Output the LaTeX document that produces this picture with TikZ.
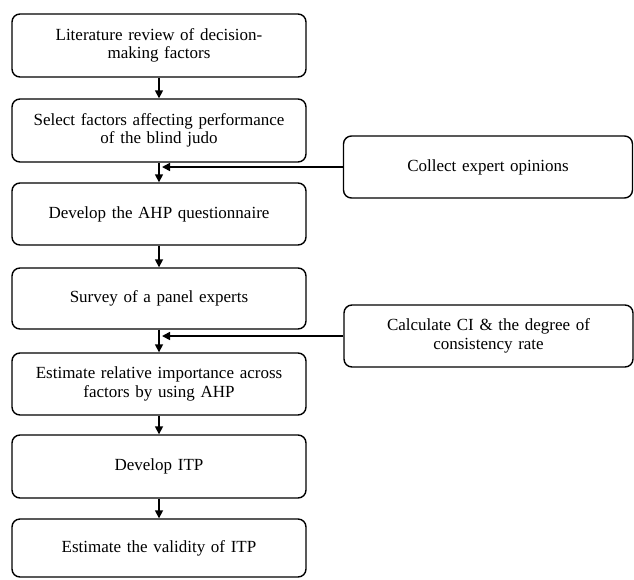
\documentclass[tikz,border=0pt]{standalone}
\usepackage{fontspec}
\setmainfont{Liberation Serif}
\usetikzlibrary{arrows.meta}
\begin{document}
\begin{tikzpicture}[x=1pt,y=1pt,
  stepbox/.style={draw, line width=1.4pt, rounded corners=8pt, align=center,
    minimum width=294pt, text width=285pt, inner sep=0pt,
    font=\fontsize{17}{18.5}\selectfont},
  sidebox/.style={stepbox, minimum width=289pt, text width=280pt, minimum height=62pt},
  arr/.style={line width=1.6pt, -{Triangle[length=8pt,width=8pt]}}]
\useasboundingbox (0,0) rectangle (634,-579);
\node[stepbox, minimum height=63pt] (b1) at (159,-45.5) {Literature review of decision-\\making factors};
\node[stepbox, minimum height=63pt] (b2) at (159,-130.5) {Select factors affecting performance\\of the blind judo};
\node[stepbox, minimum height=62pt] (b3) at (159,-214) {Develop the AHP questionnaire};
\node[stepbox, minimum height=61pt] (b4) at (159,-298.5) {Survey of a panel experts};
\node[stepbox, minimum height=62pt] (b5) at (159,-384) {Estimate relative importance across\\factors by using AHP};
\node[stepbox, minimum height=63pt] (b6) at (159,-466.5) {Develop ITP};
\node[stepbox, minimum height=58pt] (b7) at (159,-548) {Estimate the validity of ITP};
\node[sidebox] (s1) at (488,-167) {Collect expert opinions};
\node[sidebox] (s2) at (488.5,-336) {Calculate CI \& the degree of\\consistency rate};
\draw[arr] (b1) -- (b2);
\draw[arr] (b2) -- (b3);
\draw[arr] (b3) -- (b4);
\draw[arr] (b4) -- (b5);
\draw[arr] (b5) -- (b6);
\draw[arr] (b6) -- (b7);
\coordinate (t1) at ([xshift=3pt]s1.west -| b2.south);
\coordinate (t2) at ([xshift=3pt]s2.west -| b4.south);
\draw[arr] (s1.west) -- (t1);
\draw[arr] (s2.west) -- (t2);
\end{tikzpicture}
\end{document}
